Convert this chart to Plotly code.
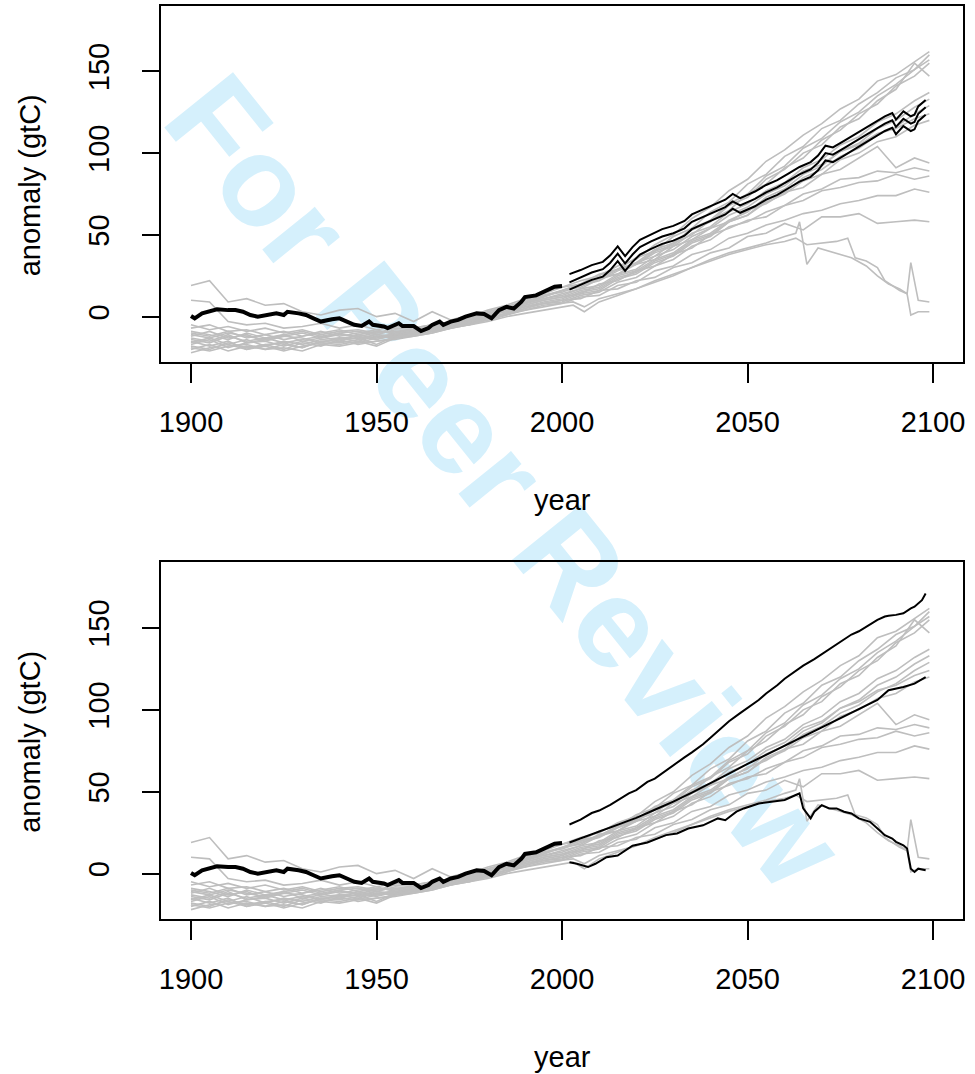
import plotly.graph_objects as go

# ---------------- data ----------------
HIST_GRID = [1900, 1905, 1910, 1915, 1920, 1925, 1930, 1935, 1940, 1945, 1950,
             1955, 1960, 1965, 1970, 1975, 1980, 1985, 1990, 1995, 2000]
FUT_GRID = [2005, 2010, 2015, 2020, 2025, 2030, 2035, 2040, 2045, 2050,
            2055, 2060, 2065, 2070, 2075, 2080, 2085, 2090, 2095, 2099]
YEARS_GRID = HIST_GRID + FUT_GRID

run01 = [19, 22, 9, 11, 7, 8, 3, 1, 4, 5, 0, 2, -3, 3, -2, 1, 3, 6, 9, 13, 16,
         20, 23, 29, 32, 39, 43, 51, 55, 64, 69, 77, 82, 91, 96, 105, 110, 119, 124, 132, 137]
run02 = [10, 9, -3, -5, -4, -7, -6, -4, -7, -5, -8, -6, -7, -5, -4, -1, 2, 5, 8, 12, 16,
         18, 24, 26, 32, 35, 43, 47, 54, 58, 65, 69, 76, 79, 87, 90, 97, 104, 91, 97, 94]
run03 = [-5, -8, -6, -9, -7, -10, -8, -11, -9, -8, -10, -7, -8, -6, -3, 0, 4, 7, 11, 15, 18,
         22, 25, 31, 35, 44, 50, 60, 67, 77, 84, 95, 102, 111, 118, 127, 133, 144, 148, 156, 162]
run04 = [-7, -5, -9, -8, -11, -9, -12, -10, -8, -11, -9, -10, -7, -5, -4, -1, 3, 6, 10, 14, 18,
         20, 26, 29, 36, 40, 49, 54, 64, 70, 81, 87, 98, 104, 115, 120, 130, 137, 146, 151, 160]
run05 = [-10, -12, -9, -13, -11, -14, -12, -9, -12, -10, -8, -11, -9, -6, -5, -2, 1, 5, 9, 12, 16,
         20, 23, 29, 33, 41, 45, 54, 59, 69, 75, 86, 92, 103, 109, 119, 125, 135, 142, 151, 157]
run06 = [-12, -9, -13, -11, -15, -12, -10, -13, -11, -12, -10, -9, -10, -8, -6, -3, 0, 4, 8, 11, 14,
         17, 23, 26, 33, 37, 45, 50, 59, 65, 75, 81, 91, 97, 108, 114, 124, 130, 141, 147, 155]
run07 = [-14, -16, -12, -15, -13, -16, -14, -12, -15, -11, -13, -10, -8, -7, -4, -2, 2, 5, 9, 13, 15,
         19, 22, 28, 32, 40, 44, 53, 58, 68, 73, 84, 90, 100, 105, 116, 121, 132, 139, 155, 147]
run08 = [-16, -13, -17, -14, -18, -15, -17, -14, -13, -15, -12, -11, -9, -8, -5, -3, 1, 3, 7, 10, 12,
         16, 18, 25, 28, 35, 39, 47, 51, 59, 64, 73, 78, 87, 92, 101, 106, 115, 120, 128, 133]
run09 = [-18, -20, -16, -19, -17, -20, -16, -18, -14, -13, -17, -12, -10, -7, -6, -4, -1, 2, 5, 8, 10,
         14, 16, 23, 26, 33, 37, 45, 49, 58, 62, 71, 76, 85, 90, 98, 103, 111, 116, 124, 129]
run10 = [-20, -17, -21, -18, -20, -17, -19, -15, -16, -14, -12, -13, -11, -9, -6, -3, 0, 4, 8, 11, 13,
         17, 19, 26, 29, 37, 41, 49, 54, 62, 67, 75, 80, 89, 93, 101, 105, 112, 115, 121, 124]
run11 = [-22, -19, -17, -20, -18, -21, -18, -16, -17, -15, -18, -13, -12, -10, -7, -5, -1, 2, 6, 9, 11,
         15, 17, 24, 27, 34, 38, 46, 50, 58, 62, 70, 75, 83, 87, 96, 100, 107, 110, 117, 120]
run12 = [-9, -11, -14, -10, -13, -11, -15, -13, -10, -13, -11, -12, -9, -7, -5, -2, 1, 3, 6, 8, 9,
         13, 15, 21, 24, 31, 35, 43, 47, 55, 58, 64, 68, 75, 78, 84, 85, 89, 88, 91, 89]
run13 = [-13, -15, -11, -16, -14, -12, -13, -16, -13, -12, -14, -11, -10, -8, -6, -4, 0, 4, 7, 10, 12,
         14, 20, 22, 28, 31, 38, 42, 50, 54, 59, 61, 68, 71, 77, 79, 82, 83, 87, 84, 86]
run14 = [-17, -14, -19, -16, -15, -18, -15, -17, -15, -16, -13, -12, -11, -9, -7, -4, -2, 1, 4, 6, 8,
         12, 13, 19, 21, 28, 31, 38, 41, 48, 51, 56, 59, 63, 65, 69, 71, 74, 74, 78, 76]
run15 = [-19, -21, -18, -17, -20, -19, -21, -17, -18, -16, -15, -14, -12, -10, -7, -5, -2, 1, 5, 8, 10,
         11, 16, 17, 22, 24, 30, 33, 39, 42, 49, 51, 57, 53, 61, 61, 63, 57, 58, 59, 58]

run16_years = HIST_GRID + [2003, 2006, 2010, 2015, 2020, 2025, 2030, 2035, 2040, 2045, 2050, 2055,
                           2060, 2063, 2064, 2066, 2069, 2072, 2075, 2078, 2082, 2085, 2088, 2091,
                           2093, 2094, 2096, 2099]
run16 = [-11, -13, -10, -12, -14, -11, -9, -12, -10, -9, -11, -8, -9, -7, -5, -3, -1, 2, 4, 7, 8,
         9, 6, 11, 14, 17, 21, 25, 30, 35, 39, 42, 45, 49, 51, 58, 32, 42, 40, 38, 36, 31, 25, 20, 17,
         14, 33, 10, 9]
run17_years = HIST_GRID + [2003, 2006, 2010, 2015, 2020, 2025, 2030, 2035, 2040, 2045, 2050, 2055,
                           2060, 2063, 2066, 2070, 2074, 2077, 2079, 2082, 2085, 2087, 2089, 2091,
                           2093, 2094, 2096, 2099]
run17 = [-15, -18, -15, -20, -17, -16, -19, -15, -14, -17, -15, -13, -11, -9, -6, -5, -3, 0, 2, 4, 6,
         7, 3, 9, 13, 17, 22, 26, 30, 34, 38, 41, 44, 46, 48, 44, 45, 46, 48, 36, 34, 30, 22, 19, 16,
         14, 1, 3, 3]

obs_years = [1900, 1901, 1903, 1905, 1907, 1910, 1912, 1914, 1916, 1918, 1921, 1923, 1925, 1926,
             1929, 1931, 1933, 1935, 1938, 1940, 1942, 1944, 1946, 1948, 1949, 1952, 1953, 1956,
             1957, 1960, 1962, 1964, 1965, 1967, 1968, 1970, 1972, 1974, 1977, 1979, 1981, 1983,
             1985, 1987, 1989, 1990, 1993, 1995, 1997, 1998, 2000]
obs_vals = [0.4, -1, 2, 3, 4.5, 4, 4, 3, 1, 0, 1, 2, 1, 3, 2, 1, -1, -3, -1.6, -1, -3, -5, -5.7,
            -3, -5, -6, -7, -4, -5.7, -5.7, -8.8, -7, -5, -3, -5, -3, -2, 0, 2, 1.6, -1, 4, 6, 5,
            9, 12, 13, 15, 16.7, 18.3, 18.7]

# top panel projection (mean and band)
proj_years = [2002, 2005, 2008, 2011, 2013, 2015, 2017, 2019, 2021, 2024, 2027, 2030, 2033, 2035,
              2038, 2041, 2044, 2046, 2048, 2050, 2052, 2055, 2058, 2061, 2064, 2067, 2069, 2071,
              2073, 2076, 2079, 2082, 2085, 2087, 2089, 2090, 2092, 2094, 2095, 2096, 2098]
proj_mid = [21, 24, 27, 29, 33, 38.5, 32.5, 38, 42.5, 46, 49, 51, 54, 58, 61, 64, 67, 70.5, 68, 70,
            72, 76, 79, 83, 87, 90, 94, 100, 99, 103, 107, 111, 115, 118, 120, 116, 121, 118, 119,
            124, 128]
proj_upper = [26, 28.5, 31.5, 33.5, 37.5, 43, 37, 42.5, 47, 50.5, 53.5, 55.5, 58.5, 62.5, 65.5,
              68.5, 71.5, 75, 72.5, 74.5, 76.5, 80.5, 83.5, 87.5, 91.5, 94.5, 98.5, 104.5, 103.5,
              107.5, 111.5, 115.5, 119.5, 122.5, 124.5, 120.5, 125.5, 122.5, 123.5, 128.5, 132.5]
proj_lower = [16.5, 19.5, 22.5, 24.5, 28.5, 34, 28, 33.5, 38, 41.5, 44.5, 46.5, 49.5, 53.5, 56.5,
              59.5, 62.5, 66, 63.5, 65.5, 67.5, 71.5, 74.5, 78.5, 82.5, 85.5, 89.5, 95.5, 94.5,
              98.5, 102.5, 106.5, 110.5, 113.5, 115.5, 111.5, 116.5, 113.5, 114.5, 119.5, 123.5]

# bottom panel envelope
env_up_years = [2002, 2005, 2008, 2010, 2013, 2015, 2018, 2020, 2023, 2025, 2028, 2030, 2033, 2035,
                2038, 2040, 2043, 2045, 2048, 2050, 2053, 2055, 2058, 2060, 2063, 2065, 2068, 2070,
                2073, 2075, 2078, 2080, 2083, 2085, 2087, 2088, 2090, 2092, 2094, 2095, 2097, 2098]
env_up_vals = [30, 33, 37, 38.5, 42, 45, 49, 51, 56, 58, 63, 66, 71, 74, 79, 83, 89, 93, 98, 101,
               106, 110, 115, 119, 124, 127, 131, 134, 139, 142, 146, 148, 152, 155, 157, 157.5,
               158, 159, 162, 163, 167, 171]
env_mid_years = [2002, 2005, 2010, 2015, 2020, 2025, 2030, 2035, 2040, 2045, 2050, 2055, 2060,
                 2065, 2070, 2075, 2080, 2085, 2088, 2090, 2092, 2095, 2098]
env_mid_vals = [19, 21.5, 25.5, 29.5, 34, 39, 44, 49.5, 55, 61, 67, 72.5, 78, 83.5, 89, 94.5, 100,
                106, 112, 113, 114, 116, 120]
env_lo_years = [2002, 2004, 2007, 2009, 2012, 2015, 2019, 2023, 2028, 2031, 2034, 2038, 2042, 2044,
                2047, 2049, 2053, 2056, 2060, 2063, 2064, 2065, 2067, 2068, 2070, 2072, 2074, 2076,
                2078, 2080, 2082, 2083, 2086, 2087, 2089, 2090, 2092, 2093, 2094, 2095, 2096, 2098]
env_lo_vals = [7, 6, 4, 6, 10, 11, 17, 19, 23.5, 24.5, 27.5, 29.5, 33.7, 32.6, 37.8, 39.8, 42.8,
               43.9, 45, 48, 49, 39.8, 33.7, 37.8, 41.8, 39.8, 39.8, 37.8, 36.7, 33.7, 32.6, 31.6,
               25.5, 23.5, 21.4, 19.4, 17.3, 15.3, 3, 1, 3, 2]

X_TICKS = [1900, 1950, 2000, 2050, 2100]
Y_TICKS = [0, 50, 100, 150]
X_TITLE = "year"
Y_TITLE = "anomaly (gtC)"
WATERMARK = "For Peer Review"

# ---------------- figure ----------------
W, H = 975, 1074
FONT = "Liberation Sans, Arial, Helvetica, sans-serif"
GRAY = "#BEBEBE"

gray_runs = [(YEARS_GRID, r) for r in (run01, run02, run03, run04, run05, run06, run07, run08,
                                        run09, run10, run11, run12, run13, run14, run15)]
gray_runs += [(run16_years, run16), (run17_years, run17)]

fig = go.Figure()
for xa, ya in (("x", "y"), ("x2", "y2")):
    for yrs, vals in gray_runs:
        fig.add_trace(go.Scatter(x=yrs, y=vals, mode="lines", xaxis=xa, yaxis=ya,
                                 line=dict(color=GRAY, width=1.6), hoverinfo="skip"))
    fig.add_trace(go.Scatter(x=obs_years, y=obs_vals, mode="lines", xaxis=xa, yaxis=ya,
                             line=dict(color="black", width=4), hoverinfo="skip"))

for vals in (proj_upper, proj_mid, proj_lower):
    fig.add_trace(go.Scatter(x=proj_years, y=vals, mode="lines", xaxis="x", yaxis="y",
                             line=dict(color="black", width=2), hoverinfo="skip"))
for yrs, vals in ((env_up_years, env_up_vals), (env_mid_years, env_mid_vals),
                  (env_lo_years, env_lo_vals)):
    fig.add_trace(go.Scatter(x=yrs, y=vals, mode="lines", xaxis="x2", yaxis="y2",
                             line=dict(color="black", width=2), hoverinfo="skip"))

x_dom = [159.3 / W, 965.7 / W]
top_dom = [1 - 362.3 / H, 1 - 5.7 / H]
bot_dom = [1 - 919.3 / H, 1 - 562.3 / H]

xaxis_common = dict(range=[1892, 2108], tickvals=X_TICKS, ticks="outside", ticklen=19,
                    tickwidth=1.5, tickcolor="black", showline=True, mirror=True,
                    linecolor="black", linewidth=1.5, showgrid=False, zeroline=False,
                    tickfont=dict(family=FONT, size=29, color="black"),
                    ticklabelstandoff=14)
yaxis_common = dict(range=[-27.9, 190.1], tickvals=Y_TICKS, ticks="outside", ticklen=18,
                    tickwidth=1.5, tickcolor="black", showline=True, mirror=True,
                    linecolor="black", linewidth=1.5, showgrid=False, zeroline=False,
                    tickangle=-90, tickfont=dict(family=FONT, size=29, color="black"),
                    ticklabelstandoff=21)

ann = []
for yc, ty in ((500 / H, 185.5 / H), (1056.6 / H, 742 / H)):
    ann.append(dict(text=X_TITLE, x=562.5 / W, y=1 - yc, xref="paper", yref="paper",
                    showarrow=False, xanchor="center", yanchor="middle",
                    font=dict(family=FONT, size=29, color="black")))
    ann.append(dict(text=Y_TITLE, x=27 / W, y=1 - ty, xref="paper", yref="paper",
                    showarrow=False, xanchor="center", yanchor="middle", textangle=-90,
                    font=dict(family=FONT, size=29, color="black")))

fig.update_layout(
    width=W, height=H, margin=dict(l=0, r=0, t=0, b=0),
    paper_bgcolor="white", plot_bgcolor="rgba(0,0,0,0)", showlegend=False,
    xaxis=dict(domain=x_dom, anchor="y", **xaxis_common),
    yaxis=dict(domain=top_dom, anchor="x", **yaxis_common),
    xaxis2=dict(domain=x_dom, anchor="y2", **xaxis_common),
    yaxis2=dict(domain=bot_dom, anchor="x2", **yaxis_common),
    annotations=ann,
    shapes=[dict(type="line", xref="paper", yref="paper",
                 x0=(170 + 35) / W, y0=1 - (118 - 28) / H,
                 x1=(790 + 35) / W, y1=1 - (885 - 28) / H,
                 line=dict(color="rgba(0,0,0,0)", width=0), layer="below",
                 label=dict(text=WATERMARK, textposition="middle",
                            yanchor="middle",
                            font=dict(family="Liberation Sans, Arial, sans-serif", size=128,
                                      color="#D5F0FC", weight="bold")))],
)

fig.write_html("out.html", config={"displayModeBar": False},
               post_script="document.body.style.margin='0';document.body.style.overflow='hidden';")
